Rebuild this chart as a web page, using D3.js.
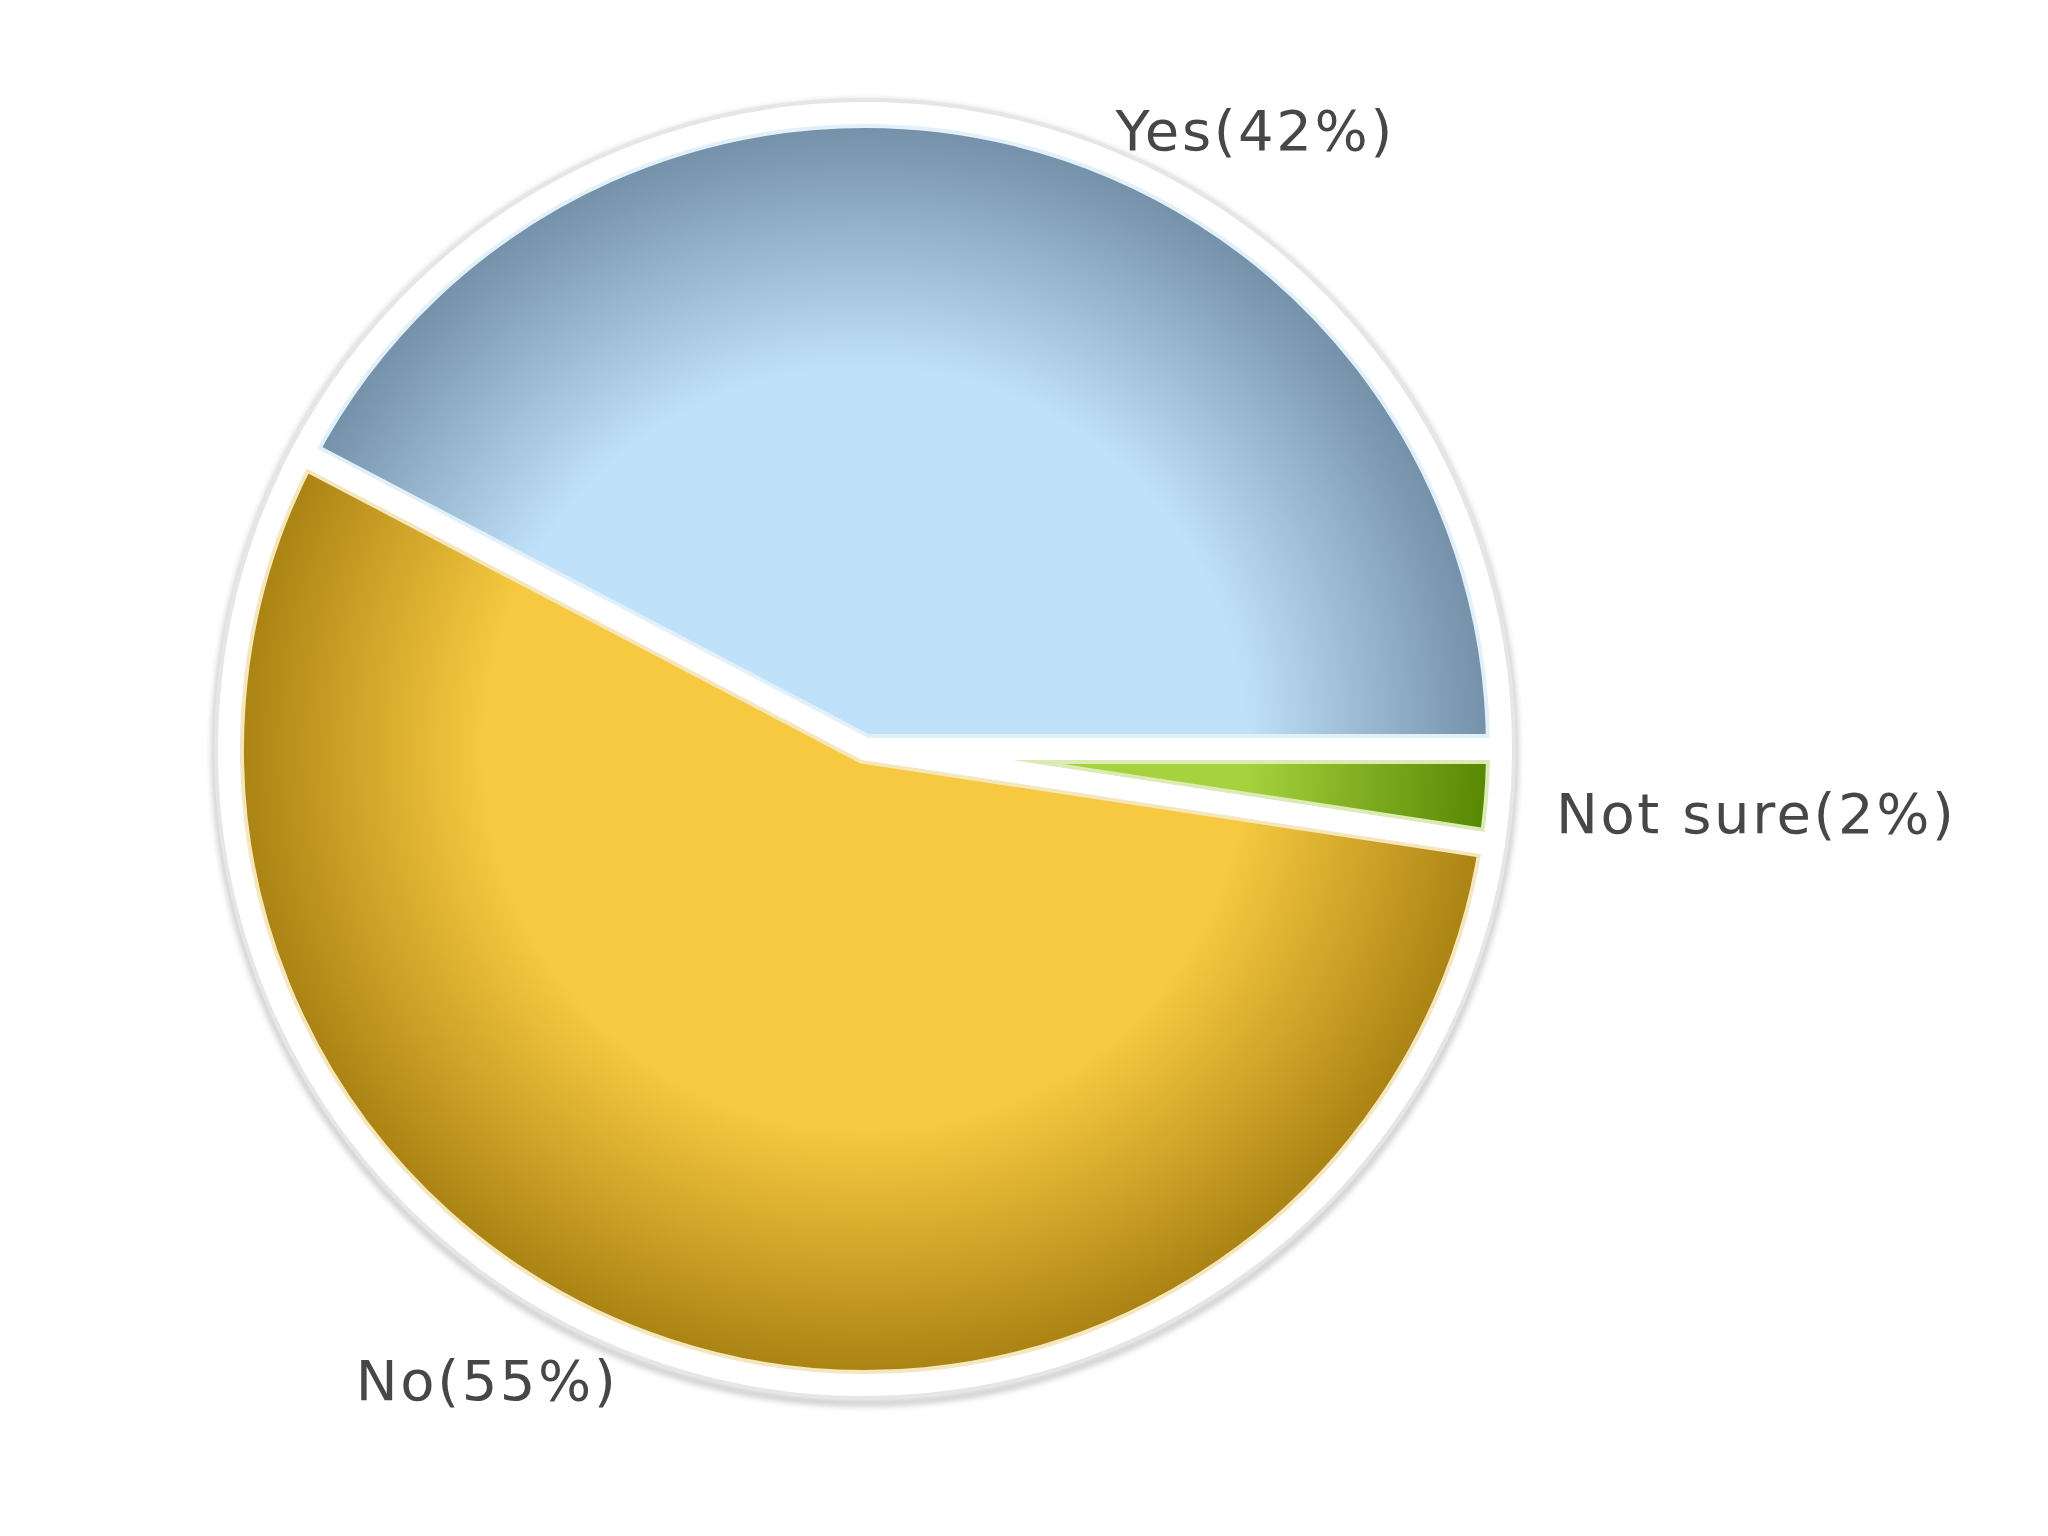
<!DOCTYPE html>
<html>
<head>
<meta charset="utf-8">
<script src="https://cdn.jsdelivr.net/npm/d3@7"></script>
<style>
  html, body { margin: 0; padding: 0; background: #ffffff; }
</style>
</head>
<body>
<script>
// data
const categories = ["Yes", "No", "Not sure"];
const values = [42.3, 55.3, 2.4];

// colours: light centre, dark rim, tint beside the white border
const lightColors = ["#bfe1f9", "#f7c940", "#a6d23e"];
const darkColors = ["#7590a9", "#ab8314", "#588703"];
const tintColors = ["#e2f0fa", "#f4e7bd", "#dcebb6"];

// label nudges (layout only)
const labelNudge = [[78, 80], [-22, -53], [-27, 10]];

function main() {
    const width = 2048, height = 1536;
    const cx = 865, cy = 749;
    const R = 636;

    const svg = d3.select("body").append("svg")
        .attr("width", width)
        .attr("height", height)
        .style("background-color", "#ffffff");

    const defs = svg.append("defs");

    defs.append("filter")
        .attr("id", "shadow")
        .attr("x", "-10%").attr("y", "-10%")
        .attr("width", "120%").attr("height", "120%")
        .append("feGaussianBlur")
        .attr("stdDeviation", 3);

    categories.forEach((c, i) => {
        let g = defs.append("radialGradient")
            .attr("id", "grad" + i)
            .attr("gradientUnits", "userSpaceOnUse")
            .attr("cx", 0).attr("cy", 0).attr("r", R);
        g.append("stop").attr("offset", "0").attr("stop-color", lightColors[i]);
        g.append("stop").attr("offset", "0.6").attr("stop-color", lightColors[i]);
        g.append("stop").attr("offset", "0.98").attr("stop-color", darkColors[i]);
    });

    const pie = d3.pie()
        .sort(null)
        .value(d => d)
        .startAngle(Math.PI / 2)
        .endAngle(Math.PI / 2 - 2 * Math.PI);

    const arcs = pie(values);

    const arc = d3.arc()
        .innerRadius(0)
        .outerRadius(R);

    // outer ring with soft shadow
    svg.append("circle")
        .attr("cx", cx).attr("cy", cy + 4)
        .attr("r", R + 14)
        .attr("fill", "none")
        .attr("stroke", "#9c9c9c")
        .attr("stroke-width", 6)
        .attr("opacity", 0.6)
        .attr("filter", "url(#shadow)");

    svg.append("circle")
        .attr("cx", cx).attr("cy", cy)
        .attr("r", R + 12)
        .attr("fill", "#ffffff")
        .attr("stroke", "#e6e6e6")
        .attr("stroke-width", 6);

    const chart = svg.append("g")
        .attr("transform", `translate(${cx},${cy})`);

    arcs.forEach((a, i) => {
        defs.append("clipPath")
            .attr("id", "clip" + i)
            .append("path")
            .attr("d", arc(a));
    });

    const slices = chart.selectAll("g.slice")
        .data(arcs)
        .enter()
        .append("g")
        .attr("class", "slice");

    slices.append("path")
        .attr("d", arc)
        .attr("fill", (d, i) => `url(#grad${i})`);

    slices.append("path")
        .attr("d", arc)
        .attr("fill", "none")
        .attr("stroke", (d, i) => tintColors[i])
        .attr("stroke-width", 30)
        .attr("stroke-linejoin", "round")
        .attr("clip-path", (d, i) => `url(#clip${i})`);

    chart.selectAll("path.border")
        .data(arcs)
        .enter()
        .append("path")
        .attr("class", "border")
        .attr("d", arc)
        .attr("fill", "none")
        .attr("stroke", "#ffffff")
        .attr("stroke-width", 22)
        .attr("stroke-linejoin", "round");

    // labels
    const labelArc = d3.arc().innerRadius(720).outerRadius(720);
    const total = d3.sum(values);

    chart.selectAll("text.label")
        .data(arcs)
        .enter()
        .append("text")
        .attr("class", "label")
        .attr("x", (d, i) => labelArc.centroid(d)[0] + labelNudge[i][0])
        .attr("y", (d, i) => labelArc.centroid(d)[1] + labelNudge[i][1])
        .attr("dy", "0.35em")
        .attr("text-anchor", d => Math.sin((d.startAngle + d.endAngle) / 2) >= 0 ? "start" : "end")
        .style("font-family", "'DejaVu Sans', Verdana, sans-serif")
        .style("font-size", "56px")
        .style("letter-spacing", "2.6px")
        .style("fill", "#474747")
        .text((d, i) => `${categories[i]}(${Math.round(values[i] / total * 100)}%)`);
}
main();
</script>
</body>
</html>
